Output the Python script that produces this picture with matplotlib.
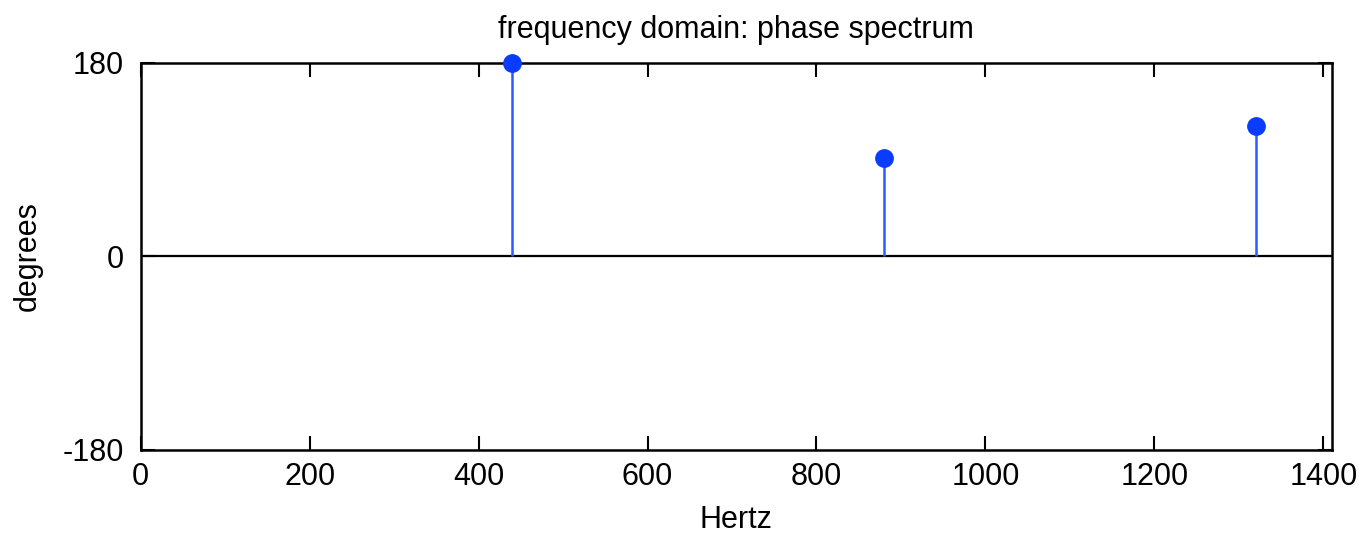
import matplotlib
matplotlib.use("Agg")
import matplotlib.pyplot as plt

freqs_hz = [440, 880, 1320]
phase_deg = [180, 91, 121]
xticks = [0, 200, 400, 600, 800, 1000, 1200, 1400]
yticks = [-180, 0, 180]

plt.rcParams['font.family'] = ['Liberation Sans', 'DejaVu Sans']
plt.rcParams['axes.unicode_minus'] = False

fig = plt.figure(figsize=(13.59, 5.35), dpi=100)
ax = fig.add_axes([0.1035, 0.159, 0.8765, 0.7238])

blue = '#0a3cff'
ax.axhline(0, color='black', lw=1.6, zorder=1)
ax.vlines(freqs_hz, 0, phase_deg, color='#2a5cff', lw=1.8, zorder=2)
ax.plot(freqs_hz, phase_deg, 'o', color=blue, markersize=12.5, zorder=3, clip_on=False)

ax.set_xlim(0, 1410)
ax.set_ylim(-180, 180)
ax.set_xticks(xticks)
ax.set_yticks(yticks)
ax.tick_params(direction='in', length=10, width=1.5, top=True, right=True,
               labelsize=22)
ax.tick_params(axis='x', pad=9)
ax.tick_params(axis='y', pad=12)
for s in ax.spines.values():
    s.set_linewidth(1.8)

ax.set_title('frequency domain: phase spectrum', fontsize=22, pad=18)
ax.set_xlabel('Hertz', fontsize=22, labelpad=9)
ax.set_ylabel('degrees', fontsize=22, labelpad=14)

fig.savefig('out.png', dpi=100)
